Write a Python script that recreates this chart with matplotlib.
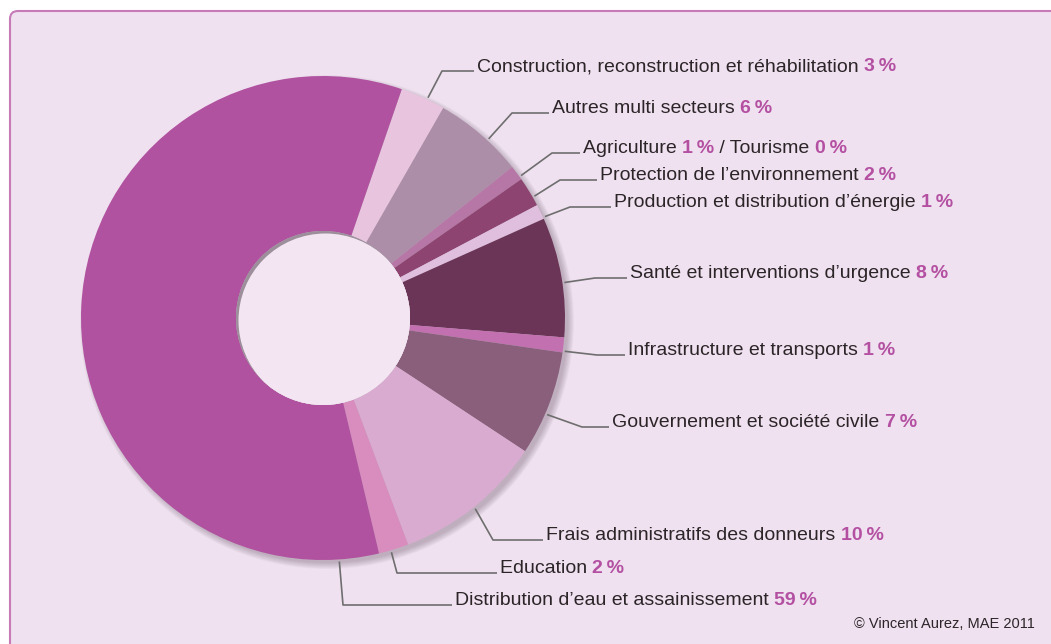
import math
import matplotlib
matplotlib.use('Agg')
import matplotlib.pyplot as plt
from matplotlib.patches import Circle, FancyBboxPatch

plt.rcParams['font.family'] = ['Liberation Sans', 'DejaVu Sans']

# données : parts par secteur (en %), dans l'ordre horaire depuis le haut
sectors = ['Construction, reconstruction et réhabilitation', 'Autres multi secteurs',
           'Agriculture', 'Protection de l\u2019environnement',
           'Production et distribution d\u2019énergie', 'Santé et interventions d\u2019urgence',
           'Infrastructure et transports', 'Gouvernement et société civile',
           'Frais administratifs des donneurs', 'Education',
           'Distribution d\u2019eau et assainissement']
shares = [3, 6, 1, 2, 1, 8, 1, 7, 10, 2, 59]
tourism_share = 0
colors = ['#e8c4de', '#ac8ea9', '#b676a6', '#8e4470', '#e0bedd', '#6b3558',
          '#c370b0', '#8a5f7c', '#d9abd0', '#d98dbf', '#b0529f']

# mise en page (pixels depuis le haut) : x du texte, y de la ligne, x du coude, position de l'ancre dans la part
text_x = [477, 552, 583, 600, 614, 630, 628, 612, 546, 500, 455]
line_y = [71, 113, 153, 180, 207, 278, 355, 427, 540, 573, 605]
elbow_x = [442, 512, 552, 560, 570, 595, 597, 582, 493, 397, 343]
anchor_frac = [0.6, 0.6, 0.8, 0.7, 0.9, 0.55, 0.9, 0.6, 0.5, 0.6, 0.045]

W, H = 1051, 644
cx, cy, R, r_in = 323, H - 318, 242, 87
start = 71
dark = '#2b2528'
pink = '#b450a2'
fs = 14

fig = plt.figure(figsize=(W / 100, H / 100), dpi=100)
fig.patch.set_facecolor('white')
ax = fig.add_axes([0, 0, 1, 1])
ax.set_xlim(0, W)
ax.set_ylim(0, H)
ax.axis('off')

bg = FancyBboxPatch((10, -20), W + 20, H - 10 + 20 - 1, boxstyle='round,pad=0,rounding_size=8',
                    fc='#f0e1f0', ec='#c77ab8', lw=1.5, zorder=0)
ax.add_patch(bg)

# ombre portée (surtout en bas à droite)
for i in range(10):
    ax.add_patch(Circle((cx + 4, cy - 4), R + 5 - i * 0.7, fc='#5a4a58', alpha=0.035, lw=0, zorder=1))

ax.pie(shares, colors=colors, startangle=start, counterclock=False, center=(cx, cy),
       radius=R, wedgeprops=dict(width=R - r_in, lw=0), frame=True)
ax.set_xlim(0, W)
ax.set_ylim(0, H)
ax.set_aspect('equal')
ax.axis('off')

# trou central avec ombre intérieure
hole = Circle((cx, cy), r_in, fc='#9c8f9b', lw=0, zorder=3)
ax.add_patch(hole)
for k, (off, a) in enumerate([(7, 0.45), (5, 0.55), (3.5, 0.75), (2.5, 1.0)]):
    c = Circle((cx + off, cy - off), r_in, fc='#f3e5f2', alpha=a, lw=0, zorder=4 + k)
    ax.add_patch(c)
    c.set_clip_path(hole)

fig.canvas.draw()
renderer = fig.canvas.get_renderer()


def draw_segments(x, y, segs):
    for txt, bold in segs:
        t = ax.text(x, y, txt, fontsize=fs, color=pink if bold else dark,
                    fontweight='bold' if bold else 'normal', va='baseline', ha='left', zorder=10)
        bb = t.get_window_extent(renderer)
        x += bb.width


cum = 0
total = sum(shares)
for i, name in enumerate(sectors):
    a0 = start - 360 * cum / total
    ang = a0 - 360 * shares[i] * anchor_frac[i] / total
    cum += shares[i]
    ax_x = cx + (R + 2) * math.cos(math.radians(ang))
    ax_y = cy + (R + 2) * math.sin(math.radians(ang))
    ly = H - line_y[i]
    ax.plot([ax_x, elbow_x[i], text_x[i] - 3], [ax_y, ly, ly], color='#6e6e6e', lw=1.2,
            solid_capstyle='butt', zorder=9)
    if name == 'Agriculture':
        segs = [(name + ' ', False), (f'{shares[i]}\u2009%', True), (' / Tourisme ', False),
                (f'{tourism_share}\u2009%', True)]
    else:
        segs = [(name + ' ', False), (f'{shares[i]}\u2009%', True)]
    draw_segments(text_x[i], ly, segs)

ax.text(1035, H - 628, '\u00a9 Vincent Aurez, MAE 2011', fontsize=10.5, color=dark,
        ha='right', va='baseline')

fig.savefig('out.png', dpi=100, facecolor='white')
